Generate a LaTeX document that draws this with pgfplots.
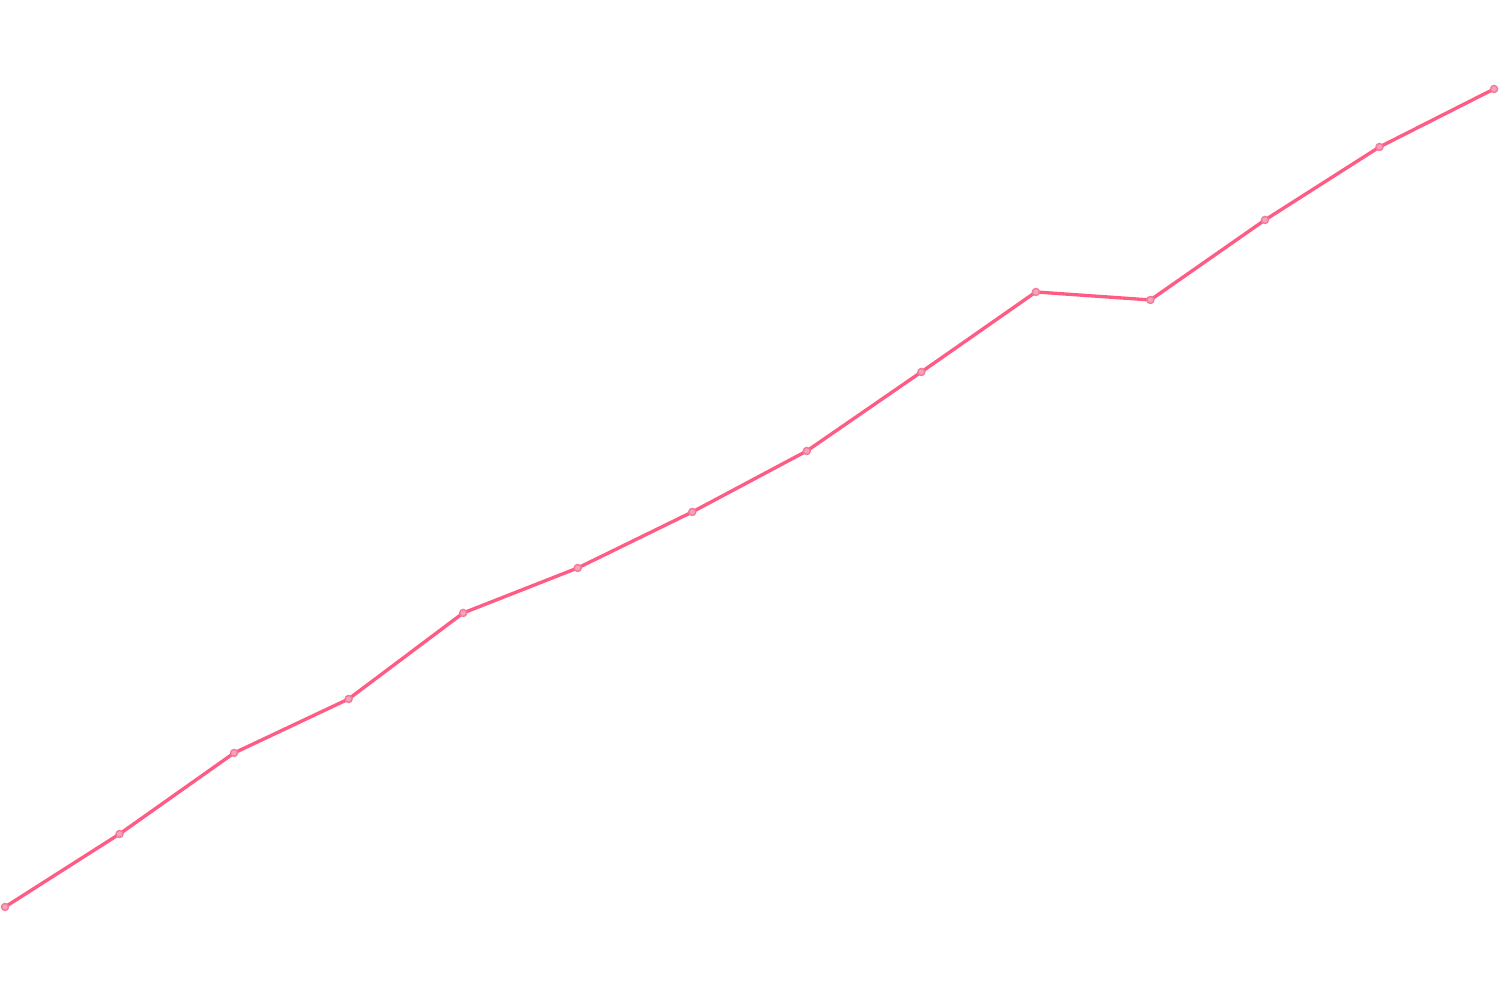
\documentclass[border=0pt]{standalone}
\usepackage{pgfplots}
\pgfplotsset{compat=1.18}

\definecolor{lineRose}{HTML}{FF5C85}
\definecolor{markRose}{HTML}{F27A9A}

\begin{document}
\begin{tikzpicture}
\begin{axis}[
    scale only axis,
    width=15cm, height=10cm,
    hide axis,
    clip=false,
    xmin=-0.0437, xmax=13.052,
    ymin=1, ymax=1001,
]
% keep the full canvas as bounding box
\path (rel axis cs:0,0) rectangle (rel axis cs:1,1);
\addplot[color=lineRose, line width=0.95pt, mark=*, mark size=1pt,
    mark options={fill=markRose!70!white, draw=markRose, line width=0.4pt}]
    coordinates {
    (0,94) (1,167) (2,248) (3,302) (4,388) (5,433) (6,489)
    (7,550) (8,629) (9,709) (10,701) (11,781) (12,854) (13,912)
    };
\end{axis}
\end{tikzpicture}
\end{document}
